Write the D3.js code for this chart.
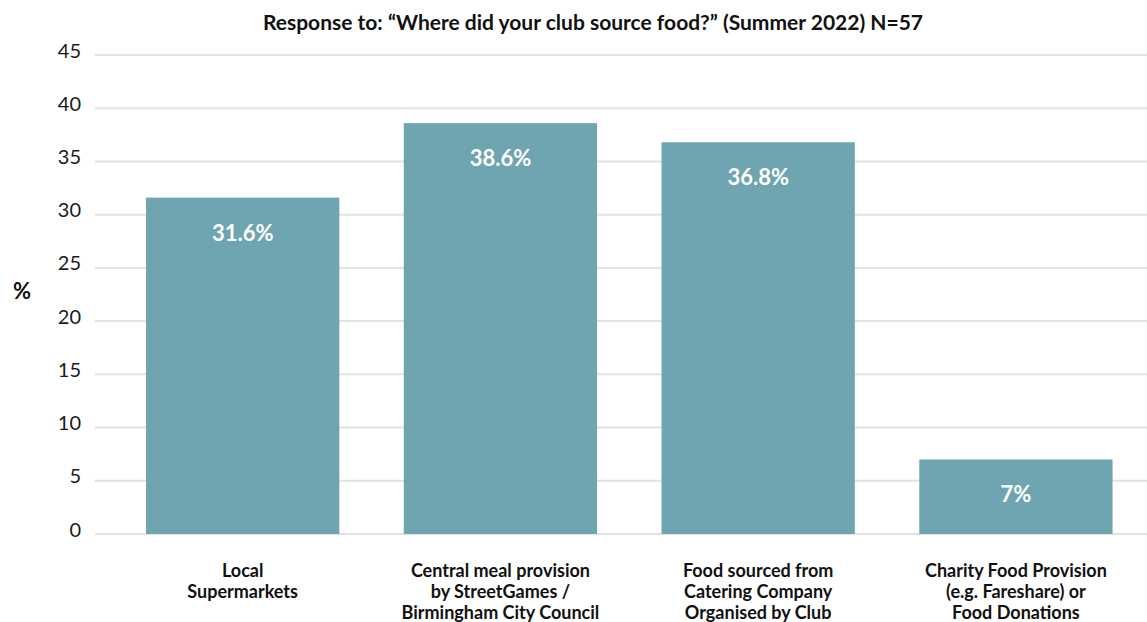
<!DOCTYPE html>
<html>
<head>
<meta charset="utf-8">
<script src="https://cdn.jsdelivr.net/npm/d3@7"></script>
<style>
  html, body { margin: 0; padding: 0; background: #fff; }
  svg { display: block; font-family: Lato, "Open Sans", sans-serif; }
</style>
</head>
<body>
<svg id="chart" width="1147" height="622"></svg>
<script>
// Survey answers: where clubs sourced food (Summer 2022)
const categories = [
  ["Local", "Supermarkets"],
  ["Central meal provision", "by StreetGames /", "Birmingham City Council"],
  ["Food sourced from", "Catering Company", "Organised by Club"],
  ["Charity Food Provision", "(e.g. Fareshare) or", "Food Donations"]
];
const values = [31.6, 38.6, 36.8, 7];
const valueLabels = ["31.6%", "38.6%", "36.8%", "7%"];
const yTicks = [0, 5, 10, 15, 20, 25, 30, 35, 40, 45];
const title = "Response to: \u201cWhere did your club source food?\u201d (Summer 2022) N=57";

const svg = d3.select("#chart");
const barColor = "#6fa5b0";

const x = d3.scaleBand()
  .domain(d3.range(values.length))
  .range([113.8, 1144.8])
  .paddingInner(0.25)
  .paddingOuter(0.125);

const y = d3.scaleLinear().domain([0, 45]).range([534, 55]);

// horizontal gridlines
svg.append("g")
  .selectAll("line")
  .data(yTicks)
  .join("line")
  .attr("x1", 95).attr("x2", 1147)
  .attr("y1", d => y(d)).attr("y2", d => y(d))
  .attr("stroke", "#e2e2e2")
  .attr("stroke-width", 2);

// y axis tick labels
const yAxis = d3.axisLeft(y).tickValues(yTicks).tickSize(0).tickPadding(0);
const yg = svg.append("g").attr("transform", "translate(81,0)").call(yAxis);
yg.select(".domain").remove();
yg.selectAll("text")
  .attr("font-family", "Lato, sans-serif")
  .attr("font-size", 20)
  .attr("fill", "#1a1a1a")
  .attr("dy", "0.1em");

// y axis title
svg.append("text")
  .attr("x", 22).attr("y", 299)
  .attr("text-anchor", "middle")
  .attr("font-size", 22).attr("font-weight", 700)
  .attr("fill", "#111")
  .text("%");

// bars
svg.append("g")
  .selectAll("rect")
  .data(values)
  .join("rect")
  .attr("x", (d, i) => x(i))
  .attr("width", x.bandwidth())
  .attr("y", d => y(d))
  .attr("height", d => y(0) - y(d))
  .attr("fill", barColor);

// value labels inside bars
svg.append("g")
  .selectAll("text")
  .data(values)
  .join("text")
  .attr("x", (d, i) => x(i) + x.bandwidth() / 2)
  .attr("y", d => y(d) + 43)
  .attr("text-anchor", "middle")
  .attr("font-size", 22).attr("font-weight", 700)
  .attr("fill", "#fff")
  .text((d, i) => valueLabels[i]);

// category labels
const xg = svg.append("g");
categories.forEach((lines, i) => {
  const t = xg.append("text")
    .attr("x", x(i) + x.bandwidth() / 2)
    .attr("y", 577)
    .attr("text-anchor", "middle")
    .attr("font-size", 18).attr("font-weight", 700)
    .attr("fill", "#111");
  lines.forEach((ln, j) => {
    t.append("tspan")
      .attr("x", x(i) + x.bandwidth() / 2)
      .attr("dy", j === 0 ? 0 : 21)
      .text(ln);
  });
});

// chart title
svg.append("text")
  .attr("x", 593).attr("y", 30)
  .attr("text-anchor", "middle")
  .attr("font-size", 21).attr("font-weight", 700)
  .attr("fill", "#111")
  .text(title);
</script>
</body>
</html>
